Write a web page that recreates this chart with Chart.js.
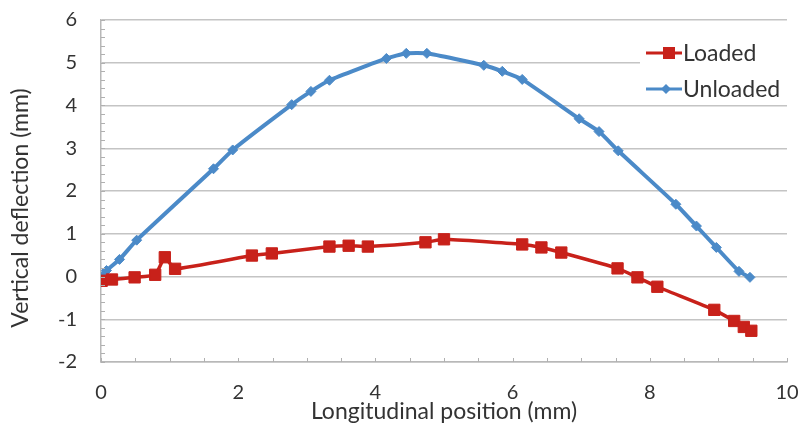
<!DOCTYPE html>
<html>
<head>
<meta charset="utf-8">
<script src="https://cdn.jsdelivr.net/npm/chart.js@4"></script>
<style>
  html, body { margin: 0; padding: 0; background: #fff; }
  #wrap { width: 801px; height: 437px; }
</style>
</head>
<body>
<div id="wrap"><canvas id="chart" width="801" height="437"></canvas></div>
<script>
// values
const loadedX = [0.01, 0.16, 0.49, 0.79, 0.93, 1.08, 2.2, 2.49, 3.33, 3.61, 3.89, 4.73, 5.0, 6.14, 6.42, 6.71, 7.53, 7.82, 8.11, 8.94, 9.23, 9.37, 9.48];
const loadedY = [-0.1, -0.07, -0.02, 0.04, 0.45, 0.18, 0.49, 0.54, 0.7, 0.72, 0.7, 0.8, 0.87, 0.75, 0.68, 0.56, 0.19, -0.02, -0.24, -0.78, -1.04, -1.18, -1.27];
const unloadedX = [0, 0.08, 0.27, 0.52, 1.64, 1.92, 2.78, 3.06, 3.33, 4.16, 4.45, 4.75, 5.58, 5.85, 6.14, 6.97, 7.26, 7.54, 8.38, 8.68, 8.97, 9.3, 9.46];
const unloadedY = [0.0, 0.14, 0.4, 0.85, 2.52, 2.96, 4.02, 4.33, 4.59, 5.1, 5.22, 5.22, 4.94, 4.8, 4.61, 3.69, 3.39, 2.94, 1.69, 1.18, 0.68, 0.12, -0.02];
const xTicks = [0, 2, 4, 6, 8, 10];
const yTicks = [-2, -1, 0, 1, 2, 3, 4, 5, 6];
const yTitle = 'Vertical deflection (mm)';

const RED = '#c8211a';
const BLUE = '#4b8ac8';
const TEXT = '#333333';
const GRID = '#c4c4c4';
const FONT = 'Lato, "Open Sans", sans-serif';

const toPoints = (xs, ys) => xs.map((x, i) => ({ x: x, y: ys[i] }));

// minor tick marks on both axes, like the spreadsheet original
const minorTicks = {
  id: 'minorTicks',
  afterDatasetsDraw(chart) {
    const { ctx, scales: { x, y }, chartArea: a } = chart;
    ctx.save();
    ctx.strokeStyle = '#b0b0b0';
    ctx.lineWidth = 1;
    ctx.beginPath();
    for (let v = -2; v <= 6.001; v += 0.2) {
      const py = Math.round(y.getPixelForValue(v)) + 0.5;
      ctx.moveTo(a.left, py);
      ctx.lineTo(a.left + 4, py);
    }
    for (let v = 0; v <= 10.001; v += 0.5) {
      const px = Math.round(x.getPixelForValue(v)) + 0.5;
      ctx.moveTo(px, a.bottom);
      ctx.lineTo(px, a.bottom - 4);
    }
    ctx.stroke();
    ctx.restore();
  }
};

// y title sits a bit lower than the plot centre in the original
const sideTitle = {
  id: 'sideTitle',
  afterDraw(chart) {
    const { ctx } = chart;
    ctx.save();
    ctx.translate(21, 208);
    ctx.rotate(-Math.PI / 2);
    ctx.fillStyle = TEXT;
    ctx.font = '23px ' + FONT;
    ctx.textAlign = 'center';
    ctx.textBaseline = 'middle';
    ctx.fillText(yTitle, 0, 0);
    ctx.restore();
  }
};

// legend box sitting inside the plot, top right
const insideLegend = {
  id: 'insideLegend',
  afterDraw(chart) {
    const { ctx } = chart;
    const items = chart.data.datasets;
    ctx.save();
    ctx.fillStyle = '#fff';
    ctx.fillRect(640, 36, 148, 66);
    items.forEach((ds, i) => {
      const cy = 53 + i * 36;
      ctx.strokeStyle = ds.borderColor;
      ctx.lineWidth = 3;
      ctx.beginPath();
      ctx.moveTo(646, cy);
      ctx.lineTo(682, cy);
      ctx.stroke();
      ctx.fillStyle = ds.pointBackgroundColor;
      ctx.beginPath();
      if (ds.pointStyle === 'rect') {
        ctx.rect(669 - 6, cy - 6, 12, 12);
      } else {
        ctx.moveTo(666, cy - 5);
        ctx.lineTo(671, cy);
        ctx.lineTo(666, cy + 5);
        ctx.lineTo(661, cy);
        ctx.closePath();
      }
      ctx.fill();
      ctx.fillStyle = TEXT;
      ctx.font = '23px ' + FONT;
      ctx.textAlign = 'left';
      ctx.textBaseline = 'middle';
      ctx.fillText(ds.label, 683, cy + 1);
    });
    ctx.restore();
  }
};

new Chart(document.getElementById('chart'), {
  type: 'scatter',
  data: {
    datasets: [
      {
        label: 'Loaded',
        data: toPoints(loadedX, loadedY),
        showLine: true,
        borderColor: RED,
        backgroundColor: RED,
        pointBackgroundColor: RED,
        pointBorderColor: RED,
        borderWidth: 3.5,
        pointStyle: 'rect',
        pointRadius: 8,
        pointBorderWidth: 1,
        tension: 0.15
      },
      {
        label: 'Unloaded',
        data: toPoints(unloadedX, unloadedY),
        showLine: true,
        borderColor: BLUE,
        backgroundColor: BLUE,
        pointBackgroundColor: BLUE,
        pointBorderColor: BLUE,
        borderWidth: 4,
        pointStyle: 'rectRot',
        pointRadius: 5,
        pointBorderWidth: 1,
        tension: 0.15
      }
    ]
  },
  options: {
    responsive: false,
    animation: false,
    layout: { padding: { top: 20, right: 14, left: 0, bottom: 0 } },
    plugins: {
      legend: { display: false },
      tooltip: { enabled: false }
    },
    scales: {
      x: {
        type: 'linear',
        min: 0,
        max: 10,
        afterBuildTicks: (s) => { s.ticks = xTicks.map(v => ({ value: v })); },
        afterFit: (s) => { s.height = 75; s.paddingLeft = 0; s.paddingRight = 0; },
        grid: { display: false, drawTicks: false },
        border: { display: true, color: '#b8b8b8', width: 1.5 },
        ticks: { color: TEXT, font: { family: FONT, size: 20 }, padding: 19 },
        title: {
          display: true,
          text: 'Longitudinal position (mm)',
          color: TEXT,
          font: { family: FONT, size: 23 },
          padding: { top: 0, bottom: 12 }
        }
      },
      y: {
        type: 'linear',
        min: -2,
        max: 6,
        afterBuildTicks: (s) => { s.ticks = yTicks.map(v => ({ value: v })); },
        afterFit: (s) => { s.width = 101; s.paddingTop = 0; s.paddingBottom = 0; },
        grid: { color: GRID, lineWidth: 1.5, drawTicks: false },
        border: { display: true, color: '#b8b8b8', width: 1.5 },
        ticks: { color: TEXT, font: { family: FONT, size: 20 }, padding: 24 },
        title: { display: false }
      }
    }
  },
  plugins: [minorTicks, sideTitle, insideLegend]
});
</script>
</body>
</html>
